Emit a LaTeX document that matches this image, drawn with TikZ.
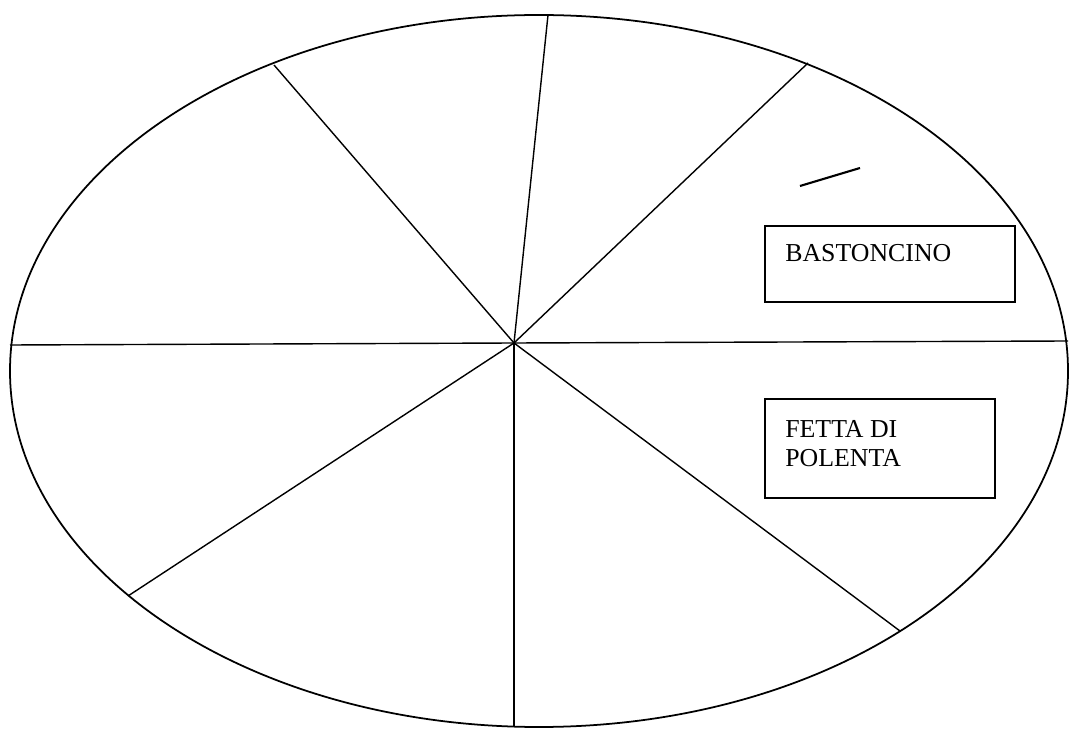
\documentclass[tikz,border=0pt]{standalone}
\usepackage{fontspec}
\setmainfont{Liberation Serif}
\usetikzlibrary{calc}
\tikzset{
  rim/.style={line width=1pt},
  spoke/.style={line width=0.8pt},
  tagbox/.style={draw, line width=1pt, inner sep=0pt, anchor=north west},
  tagtext/.style={font=\fontsize{14.7}{17}\selectfont, align=left, inner sep=0pt, anchor=base west},
}

\begin{document}
\begin{tikzpicture}[x=0.02cm, y=-0.02cm]
  \useasboundingbox (0,0) rectangle (1069,729);

  \draw[rim] (539,371) ellipse [x radius=529, y radius=356];

  \coordinate (hub) at (514,343);
  \foreach \x/\y [count=\i] in {548/15, 808/63, 1068/341, 900/631, 514/727, 128/596, 10/345, 274/65} {
    \coordinate (rim\i) at (\x,\y);
    \draw[spoke] (hub) -- (rim\i);
  }

  \coordinate (stickA) at (800,186);
  \coordinate (stickB) at (860,168);
  \draw[line width=1.2pt] (stickA) -- (stickB);

  \node[tagbox, minimum width=5cm, minimum height=1.52cm] (bastbox) at (764,225) {};
  \node[tagtext] (basttext) at ($(bastbox.north west)+(21,37)$) {BASTONCINO};

  \node[tagbox, minimum width=4.6cm, minimum height=1.98cm] (fettabox) at (764,398) {};
  \node[tagtext] (fettatext) at ($(fettabox.north west)+(21,69)$) {FETTA DI\\POLENTA};
\end{tikzpicture}
\end{document}
